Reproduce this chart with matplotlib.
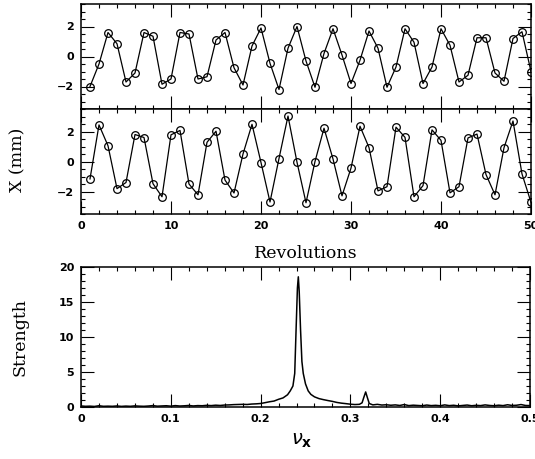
import matplotlib
matplotlib.use('Agg')
import matplotlib.pyplot as plt
from matplotlib.ticker import MultipleLocator

# turn-by-turn positions (mm), revolutions 1..50
revs = list(range(1, 51))
x_top = [-2.0, -0.5, 1.6, 0.85, -1.7, -1.1, 1.6, 1.35, -1.85, -1.5,
         1.6, 1.5, -1.5, -1.35, 1.1, 1.6, -0.75, -1.9, 0.7, 1.9,
         -0.45, -2.2, 0.55, 2.0, -0.3, -2.05, 0.2, 1.85, 0.1, -1.8,
         -0.25, 1.7, 0.55, -2.05, -0.7, 1.85, 0.95, -1.8, -0.7, 1.85,
         0.75, -1.7, -1.25, 1.25, 1.25, -1.1, -1.65, 1.2, 1.65, -1.0]
x_bot = [-1.16, 2.44, 1.05, -1.81, -1.4, 1.8, 1.6, -1.48, -2.35, 1.78,
         2.07, -1.5, -2.22, 1.28, 2.02, -1.24, -2.1, 0.5, 2.48, -0.07,
         -2.7, 0.2, 3.03, -0.05, -2.75, 0.0, 2.22, 0.17, -2.29, -0.44,
         2.35, 0.93, -1.96, -1.68, 2.29, 1.61, -2.35, -1.61, 2.11, 1.41,
         -2.09, -1.68, 1.57, 1.83, -0.87, -2.22, 0.92, 2.7, -0.83, -2.72]

# tune spectrum
nu = [0.000, 0.005, 0.010, 0.015, 0.020, 0.025, 0.030, 0.035, 0.040, 0.045,
      0.050, 0.055, 0.060, 0.065, 0.070, 0.075, 0.080, 0.085, 0.090, 0.095,
      0.100, 0.105, 0.110, 0.115, 0.120, 0.125, 0.130, 0.135, 0.140, 0.145,
      0.150, 0.155, 0.160, 0.165, 0.170, 0.175, 0.180, 0.185, 0.190, 0.195,
      0.200, 0.205, 0.210, 0.215, 0.220, 0.225, 0.230, 0.233, 0.236, 0.238,
      0.2395, 0.241, 0.242, 0.243, 0.2445, 0.246, 0.2475, 0.250, 0.253, 0.256,
      0.260, 0.265, 0.270, 0.275, 0.280, 0.285, 0.290, 0.295, 0.300, 0.305,
      0.310, 0.313, 0.315, 0.317, 0.319, 0.321, 0.325, 0.330, 0.335, 0.340,
      0.345, 0.350, 0.355, 0.360, 0.365, 0.370, 0.375, 0.380, 0.385, 0.390,
      0.395, 0.400, 0.405, 0.410, 0.415, 0.420, 0.425, 0.430, 0.435, 0.440,
      0.445, 0.450, 0.455, 0.460, 0.465, 0.470, 0.475, 0.480, 0.485, 0.490,
      0.495, 0.500]
strength = [0.15, 0.10, 0.12, 0.08, 0.18, 0.10, 0.12, 0.10, 0.15, 0.09,
            0.13, 0.10, 0.16, 0.12, 0.10, 0.14, 0.20, 0.12, 0.15, 0.18,
            0.12, 0.20, 0.14, 0.17, 0.22, 0.15, 0.20, 0.18, 0.24, 0.20,
            0.26, 0.22, 0.28, 0.30, 0.34, 0.36, 0.38, 0.36, 0.42, 0.45,
            0.50, 0.62, 0.75, 0.85, 1.10, 1.30, 1.75, 2.30, 3.00, 4.80,
            11.0, 17.0, 18.6, 16.5, 11.0, 6.50, 4.80, 3.30, 2.30, 1.80,
            1.45, 1.20, 1.05, 0.92, 0.80, 0.65, 0.55, 0.48, 0.40, 0.35,
            0.38, 0.60, 1.40, 2.15, 1.30, 0.50, 0.30, 0.38, 0.28, 0.32,
            0.25, 0.30, 0.22, 0.35, 0.20, 0.26, 0.22, 0.18, 0.28, 0.20,
            0.24, 0.18, 0.30, 0.20, 0.25, 0.16, 0.22, 0.28, 0.18, 0.24,
            0.20, 0.30, 0.22, 0.18, 0.26, 0.20, 0.32, 0.22, 0.25, 0.35,
            0.22, 0.20]

W, H = 535, 459
fig = plt.figure(figsize=(W / 100, H / 100), dpi=100)

def px_axes(l, t, r, b):
    return fig.add_axes([l / W, 1 - b / H, (r - l) / W, (b - t) / H])

ax1 = px_axes(81, 4, 531, 109)
ax2 = px_axes(81, 109, 531, 214)
ax3 = px_axes(81, 267, 530, 407)

tick_font = dict(family='DejaVu Sans', weight='bold', size=8)
label_font = dict(family='DejaVu Serif', size=12.5)

def style(ax):
    ax.tick_params(which='both', direction='in', top=True, right=True,
                   width=0.8, pad=5)
    ax.tick_params(which='major', length=9.5)
    ax.tick_params(which='minor', length=3)
    for s in ax.spines.values():
        s.set_linewidth(1.1)
    for lab in ax.get_xticklabels() + ax.get_yticklabels():
        lab.set_fontfamily(tick_font['family'])
        lab.set_fontweight(tick_font['weight'])
        lab.set_fontsize(tick_font['size'])

for ax, xv in [(ax1, x_top), (ax2, x_bot)]:
    ax.plot(revs, xv, color='black', lw=0.9, marker='o', ms=5.5,
            mfc='none', mec='black', mew=0.9)
    ax.set_xlim(0, 50)
    ax.set_ylim(-3.5, 3.5)
    ax.xaxis.set_major_locator(MultipleLocator(10))
    ax.xaxis.set_minor_locator(MultipleLocator(2))
    ax.yaxis.set_major_locator(MultipleLocator(2))
    ax.yaxis.set_minor_locator(MultipleLocator(0.5))
    style(ax)

ax1.tick_params(labelbottom=False)

ax3.plot(nu, strength, color='black', lw=1.1)
ax3.set_xlim(0, 0.5)
ax3.set_ylim(0, 20)
ax3.xaxis.set_major_locator(MultipleLocator(0.1))
ax3.xaxis.set_minor_locator(MultipleLocator(0.02))
ax3.yaxis.set_major_locator(MultipleLocator(5))
ax3.yaxis.set_minor_locator(MultipleLocator(1))
ax3.set_xticks([0, 0.1, 0.2, 0.3, 0.4, 0.5])
ax3.set_xticklabels(['0', '0.1', '0.2', '0.3', '0.4', '0.5'])
style(ax3)

fig.text(18 / W, 1 - 160 / H, 'X (mm)', rotation=90, ha='center', va='center', **label_font)
fig.text(306 / W, 1 - 253 / H, 'Revolutions', ha='center', va='center', **label_font)
fig.text(20 / W, 1 - 337 / H, 'Strength', rotation=90, ha='center', va='center', **label_font)
fig.text(302 / W, 1 - 441 / H, r'$\nu_{\mathbf{x}}$', ha='center', va='center', fontsize=14)

fig.savefig('out.png', dpi=100)
